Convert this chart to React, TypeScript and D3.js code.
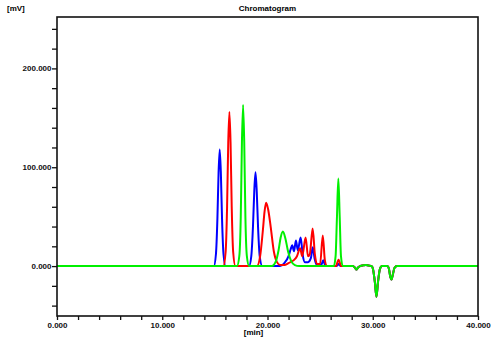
import { useEffect, useRef } from 'react';
import * as d3 from 'd3';

// retention time [min] / signal [mV] pairs
const dipTail: [number, number][] = [
  [28.1, 0], [28.3, -1.5], [28.45, -3.5], [28.6, -1.5], [28.8, 0],
  [29.1, 0.8], [29.33, 1.2], [29.6, 0.6], [29.9, 0],
  [30.02, -3], [30.2, -16], [30.35, -31], [30.5, -16], [30.68, -3], [30.88, 0],
  [31.38, 0], [31.54, -3], [31.67, -11], [31.78, -13.5], [31.9, -9], [32.06, -2], [32.3, 0],
  [40, 0],
];

const blueTrace: [number, number][] = [
  [0, 0], [14.9, 0], [15.1, 12], [15.24, 48], [15.35, 94], [15.46, 118], [15.57, 94], [15.68, 48], [15.82, 12], [16.02, 0],
  [18.25, 0], [18.46, 10], [18.62, 40], [18.74, 75], [18.86, 95], [18.98, 75], [19.1, 40], [19.26, 10], [19.5, 0],
  [21.2, 0], [21.6, 3], [22.0, 10], [22.2, 17], [22.35, 21], [22.52, 15], [22.7, 26], [22.88, 16], [23.15, 29],
  [23.35, 11], [23.55, 4], [23.85, 4], [24.12, 8], [24.3, 19], [24.47, 8], [24.7, 1], [25.1, 1], [25.3, 6], [25.47, 1],
  [25.7, 0], [26.55, 0], [26.75, 2], [26.95, 0],
  ...dipTail,
];

const redTrace: [number, number][] = [
  [0, 0], [15.8, 0], [16.02, 14], [16.16, 60], [16.27, 125], [16.38, 156], [16.49, 125], [16.6, 60], [16.74, 14], [16.95, 0],
  [19.0, 0], [19.3, 10], [19.55, 35], [19.72, 55], [19.87, 64], [20.05, 58], [20.3, 40], [20.6, 15], [20.9, 4], [21.2, 1],
  [21.6, 1], [22.0, 3], [22.5, 6], [22.8, 10], [23.1, 18], [23.3, 10], [23.62, 29], [23.85, 10], [24.02, 12],
  [24.29, 38], [24.5, 12], [24.7, 2], [25.0, 2], [25.25, 31], [25.45, 6], [25.65, 0],
  [26.5, 0], [26.75, 6.5], [27.0, 0],
  ...dipTail,
];

const greenTrace: [number, number][] = [
  [0, 0], [17.1, 0], [17.32, 10], [17.46, 50], [17.57, 125], [17.68, 163], [17.79, 125], [17.9, 50], [18.04, 10], [18.25, 0],
  [20.4, 0], [20.8, 5], [21.05, 16], [21.25, 29], [21.46, 35], [21.7, 28], [21.95, 15], [22.25, 5], [22.6, 1], [23.0, 0],
  [26.3, 0], [26.47, 10], [26.6, 50], [26.73, 88.5], [26.86, 50], [26.98, 10], [27.15, 0],
  ...dipTail,
];

const traceColors = ['#0000ff', '#ff0000', '#00f000'];
const xTicks = d3.range(0, 41, 2);
const yTicks = d3.range(-40, 241, 20);
const xLabelTicks = [0, 10, 20, 30, 40];
const yLabelTicks = [0, 100, 200];

const App = () => {
  const ref = useRef<SVGSVGElement>(null);

  useEffect(() => {
    const width = 500;
    const height = 342;
    const margin = { top: 17, right: 22, bottom: 26, left: 57 };

    const svg = d3.select(ref.current);
    svg.selectAll('*').remove();

    const x = d3.scaleLinear().domain([0, 40]).range([margin.left, width - margin.right]);
    const y = d3.scaleLinear().domain([-50.5, 252]).range([height - margin.bottom, margin.top]);

    const font = 'Liberation Sans, Arial, sans-serif';

    // traces, green drawn last so it sits on top
    const line = d3.line<[number, number]>()
      .x((d) => x(d[0]))
      .y((d) => y(d[1]))
      .curve(d3.curveMonotoneX);

    [blueTrace, redTrace, greenTrace].forEach((trace, i) => {
      svg.append('path')
        .datum(trace)
        .attr('d', line)
        .attr('fill', 'none')
        .attr('stroke', traceColors[i])
        .attr('stroke-width', 2)
        .attr('stroke-linejoin', 'round');
    });

    // frame
    svg.append('rect')
      .attr('x', margin.left)
      .attr('y', margin.top)
      .attr('width', width - margin.left - margin.right)
      .attr('height', height - margin.top - margin.bottom)
      .attr('fill', 'none')
      .attr('stroke', '#111')
      .attr('stroke-width', 1.6);

    // y axis
    const yAxis = svg.append('g')
      .attr('transform', `translate(${margin.left},0)`)
      .call(d3.axisLeft(y)
        .tickValues(yTicks)
        .tickSize(5)
        .tickSizeOuter(0)
        .tickFormat((d) => (yLabelTicks.includes(d as number) ? d3.format('.3f')(d as number) : '')));
    yAxis.select('.domain').remove();

    // x axis
    const xAxis = svg.append('g')
      .attr('transform', `translate(0,${height - margin.bottom})`)
      .call(d3.axisBottom(x)
        .tickValues(xTicks)
        .tickSize(4)
        .tickSizeOuter(0)
        .tickFormat((d) => (xLabelTicks.includes(d as number) ? d3.format('.3f')(d as number) : '')));
    xAxis.select('.domain').remove();

    svg.selectAll('.tick line').attr('stroke', '#111').attr('stroke-width', 1.3);
    svg.selectAll('.tick text')
      .attr('font-family', font)
      .attr('font-size', 8)
      .attr('font-weight', 'bold')
      .attr('fill', '#111');
    yAxis.selectAll('.tick text').attr('x', -5.5);
    xAxis.selectAll('.tick text').attr('y', 6);

    // labels
    svg.append('text')
      .attr('x', (margin.left + width - margin.right) / 2)
      .attr('y', 11)
      .attr('text-anchor', 'middle')
      .attr('font-family', font)
      .attr('font-size', 8)
      .attr('font-weight', 'bold')
      .text('Chromatogram');

    svg.append('text')
      .attr('x', 7)
      .attr('y', 11)
      .attr('font-family', font)
      .attr('font-size', 8)
      .attr('font-weight', 'bold')
      .text('[mV]');

    svg.append('text')
      .attr('x', 253.5)
      .attr('y', 335)
      .attr('text-anchor', 'middle')
      .attr('font-family', font)
      .attr('font-size', 8)
      .attr('font-weight', 'bold')
      .text('[min]');
  }, []);

  return (
    <svg
      ref={ref}
      width={500}
      height={342}
      style={{ position: 'absolute', left: 0, top: 0, background: '#fff' }}
    />
  );
};

export default App;
